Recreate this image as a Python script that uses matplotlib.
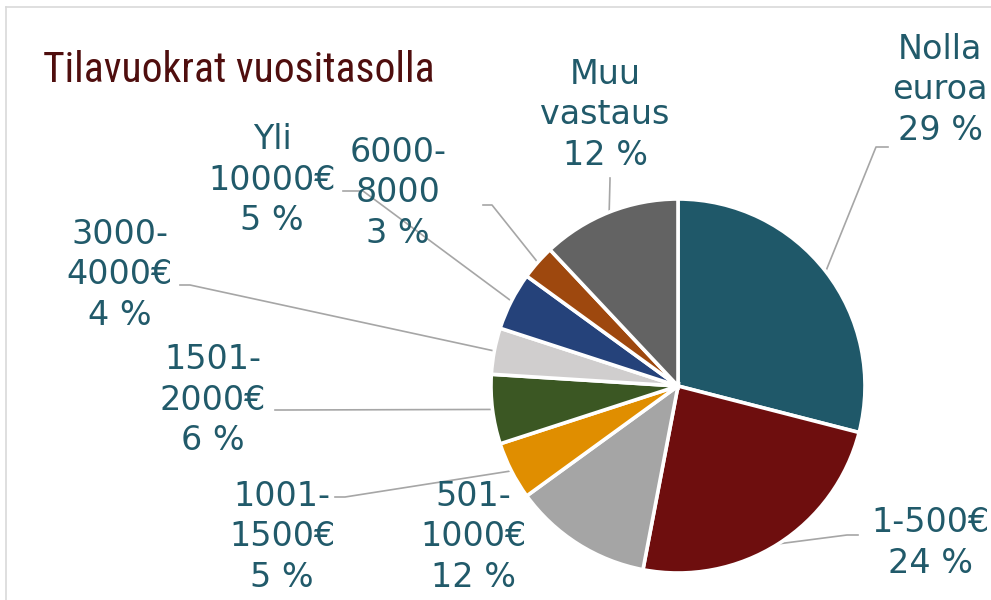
import matplotlib
matplotlib.use('Agg')
import matplotlib.pyplot as plt
from matplotlib import font_manager
from matplotlib.lines import Line2D
import numpy as np

# data
labels = ['Nolla\neuroa', '1-500€', '501-\n1000€', '1001-\n1500€', '1501-\n2000€',
          '3000-\n4000€', 'Yli\n10000€', '6000-\n8000', 'Muu\nvastaus']
shares = [29, 24, 12, 5, 6, 4, 5, 3, 12]
colors = ['#1F5869', '#6E0E0E', '#A5A5A5', '#E08E00', '#3B5723',
          '#D0CECE', '#25427A', '#9E480E', '#636363']
title = 'Tilavuokrat vuositasolla'

# layout in pixels (image 991x600), pie centre and radius
W, H = 991, 600
CX, CY, R = 678, 386, 187

def px(x, y):
    return (x - CX) / R, (CY - y) / R

# label centre, then leader-line points (label end, elbow); None = no leader
label_pos = [(940, 90), (930, 543), (473, 537), (282, 537), (213, 400),
             (120, 275), (272, 180), (398, 193), (605, 115)]
leaders = [[(888, 147), (876, 147)], [(858, 535), (847, 535)], None,
           [(335, 497), (345, 497)], [(275, 410), (285, 410)],
           [(180, 285), (190, 285)], [(343, 191), (363, 191)],
           [(483, 205), (492, 205)], [(610, 178), (610, 180)]]

fig = plt.figure(figsize=(W / 100, H / 100), dpi=100)
ax = fig.add_axes([0, 0, 1, 1])

wedges, _ = ax.pie(shares, colors=colors, startangle=90, counterclock=False,
                   radius=1, wedgeprops=dict(edgecolor='white', linewidth=2.6))

# pie() resets limits/aspect, so set them afterwards
ax.set_xlim((0 - CX) / R, (W - CX) / R)
ax.set_ylim((CY - H) / R, CY / R)
ax.set_aspect('auto')
ax.axis('off')

txt_color = '#215A6A'
for i, w in enumerate(wedges):
    lx, ly = px(*label_pos[i])
    ax.text(lx, ly, f'{labels[i]}\n{shares[i]} %', ha='center', va='center',
            fontsize=24, color=txt_color, linespacing=1.3,
            family=['DejaVu Sans'])
    if leaders[i] is not None:
        mid = np.deg2rad((w.theta1 + w.theta2) / 2)
        pts = [px(*p) for p in leaders[i]] + [(np.cos(mid), np.sin(mid))]
        xs, ys = zip(*pts)
        ax.plot(xs, ys, color='#A6A6A6', lw=1.2, zorder=0)

# title (condensed font if one is installed)
names = {f.name for f in font_manager.fontManager.ttflist}
if 'Liberation Sans Narrow' in names:
    tfam, tsize = 'Liberation Sans Narrow', 30
elif 'Roboto Condensed' in names:
    tfam, tsize = 'Roboto Condensed', 30
else:
    tfam, tsize = 'DejaVu Sans', 24
fig.text(43 / W, 1 - 82 / H, title, ha='left', va='baseline',
         fontsize=tsize, color='#4F0E0E', family=tfam)

# chart border
fig.add_artist(Line2D([6 / W, 6 / W], [-0.1, 1 - 7 / H], color='#D9D9D9',
                      lw=1.2, transform=fig.transFigure))
fig.add_artist(Line2D([6 / W, 1.1], [1 - 7 / H, 1 - 7 / H], color='#D9D9D9',
                      lw=1.2, transform=fig.transFigure))

fig.savefig('out.png', dpi=100)
